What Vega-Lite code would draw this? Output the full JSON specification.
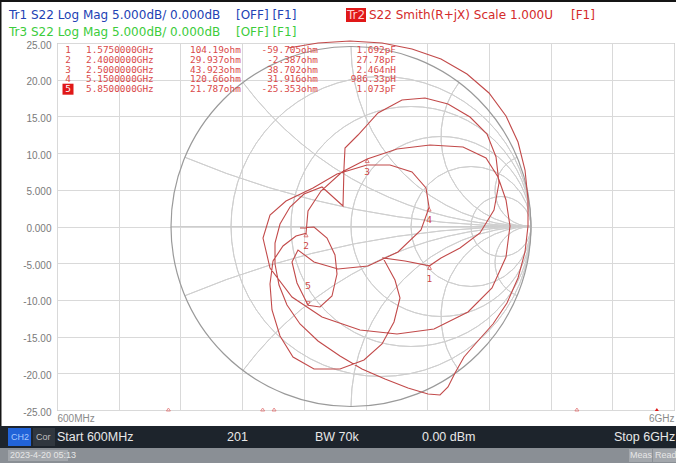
{
"$schema": "https://vega.github.io/schema/vega-lite/v6.json",
"width": 617,
"height": 367,
"autosize": {"type": "none"},
"padding": {"left": 57, "top": 43, "right": 2, "bottom": 53},
"background": "#ffffff",
"config": {"view": {"stroke": "#a6a6a6", "strokeWidth": 1}},
"datasets": {
  "smith": [
    {"k":"outer","cx":0,"cy":0,"R":1,"t1":0,"t2":6.2832},
    {"k":"r","cx":0.1667,"cy":0,"R":0.8333,"t1":0,"t2":6.2832},
    {"k":"r","cx":0.3333,"cy":0,"R":0.6667,"t1":0,"t2":6.2832},
    {"k":"r","cx":0.5,"cy":0,"R":0.5,"t1":0,"t2":6.2832},
    {"k":"r","cx":0.6667,"cy":0,"R":0.3333,"t1":0,"t2":6.2832},
    {"k":"r","cx":0.8333,"cy":0,"R":0.1667,"t1":0,"t2":6.2832},
    {"k":"x","cx":1,"cy":5,"R":5,"t1":3.1416,"t2":3.5364},
    {"k":"x","cx":1,"cy":2,"R":2,"t1":3.1416,"t2":4.0689},
    {"k":"x","cx":1,"cy":1,"R":1,"t1":3.1416,"t2":4.7124},
    {"k":"x","cx":1,"cy":0.5,"R":0.5,"t1":3.1416,"t2":5.3559},
    {"k":"x","cx":1,"cy":0.2,"R":0.2,"t1":3.1416,"t2":5.8884},
    {"k":"x","cx":1,"cy":-5,"R":5,"t1":-0.3948,"t2":0},
    {"k":"x","cx":1,"cy":-2,"R":2,"t1":-0.9273,"t2":0},
    {"k":"x","cx":1,"cy":-1,"R":1,"t1":-1.5708,"t2":0},
    {"k":"x","cx":1,"cy":-0.5,"R":0.5,"t1":-2.2143,"t2":0},
    {"k":"x","cx":1,"cy":-0.2,"R":0.2,"t1":-2.7468,"t2":0}
  ],
  "trace": [
    {"i":0,"re":-0.35,"im":0.9917},{"i":1,"re":-0.1833,"im":1.0194},{"i":2,"re":-0.0056,"im":1.0306},
    {"i":3,"re":0.1722,"im":1.0194},{"i":4,"re":0.3389,"im":0.9861},{"i":5,"re":0.5,"im":0.9306},
    {"i":6,"re":0.6444,"im":0.8472},{"i":7,"re":0.7667,"im":0.7417},{"i":8,"re":0.8611,"im":0.6139},
    {"i":9,"re":0.9278,"im":0.4694},{"i":10,"re":0.9667,"im":0.3139},{"i":11,"re":0.9833,"im":0.1528},
    {"i":12,"re":0.9833,"im":0.0028},{"i":13,"re":0.9667,"im":-0.1417},{"i":14,"re":0.9278,"im":-0.2861},
    {"i":15,"re":0.8667,"im":-0.425},{"i":16,"re":0.7889,"im":-0.5417},{"i":17,"re":0.7,"im":-0.6417},
    {"i":18,"re":0.6278,"im":-0.725},{"i":19,"re":0.5778,"im":-0.8139},{"i":20,"re":0.5389,"im":-0.8917},
    {"i":21,"re":0.4944,"im":-0.9361},{"i":22,"re":0.4278,"im":-0.9306},
    {"i":23,"re":0.3167,"im":-0.8972},{"i":24,"re":0.1889,"im":-0.8472},{"i":25,"re":0.0611,"im":-0.7917},
    {"i":26,"re":-0.0611,"im":-0.7194},{"i":27,"re":-0.1833,"im":-0.6361},{"i":28,"re":-0.2833,"im":-0.5417},
    {"i":29,"re":-0.3556,"im":-0.4361},{"i":30,"re":-0.4,"im":-0.325},{"i":31,"re":-0.4222,"im":-0.2083},
    {"i":32,"re":-0.4222,"im":-0.0917},{"i":33,"re":-0.3944,"im":0.0139},{"i":34,"re":-0.3389,"im":0.1083},
    {"i":35,"re":-0.2611,"im":0.1806},{"i":36,"re":-0.1611,"im":0.2194},{"i":37,"re":-0.0444,"im":0.1139},
    {"i":38,"re":-0.0389,"im":0.325},{"i":39,"re":-0.0333,"im":0.4361},{"i":40,"re":0.0389,"im":0.5083},
    {"i":41,"re":0.15,"im":0.6306},{"i":42,"re":0.2833,"im":0.7028},{"i":43,"re":0.4111,"im":0.7139},
    {"i":44,"re":0.5389,"im":0.6806},{"i":45,"re":0.6611,"im":0.6083},{"i":46,"re":0.7556,"im":0.5139},
    {"i":47,"re":0.8056,"im":0.3861},{"i":48,"re":0.8222,"im":0.2417},{"i":49,"re":0.7944,"im":0.0917},
    {"i":50,"re":0.7167,"im":-0.0361},{"i":51,"re":0.6056,"im":-0.1194},{"i":52,"re":0.5,"im":-0.175},
    {"i":53,"re":0.436,"im":-0.2183},
    {"i":54,"re":0.3,"im":-0.1917},{"i":55,"re":0.1778,"im":-0.175},{"i":56,"re":0.2444,"im":-0.2972},
    {"i":57,"re":0.2722,"im":-0.3972},{"i":58,"re":0.2389,"im":-0.5306},{"i":59,"re":0.1722,"im":-0.6528},
    {"i":60,"re":0.0722,"im":-0.7417},{"i":61,"re":-0.0611,"im":-0.7917},{"i":62,"re":-0.2056,"im":-0.7917},
    {"i":63,"re":-0.3222,"im":-0.725},{"i":64,"re":-0.3944,"im":-0.6083},{"i":65,"re":-0.4389,"im":-0.4639},
    {"i":66,"re":-0.45,"im":-0.3194},{"i":67,"re":-0.4333,"im":-0.1917},{"i":68,"re":-0.3778,"im":-0.1083},
    {"i":69,"re":-0.3056,"im":-0.0528},{"i":70,"re":-0.2499,"im":-0.0373},
    {"i":71,"re":-0.2389,"im":0.0861},{"i":72,"re":-0.1667,"im":0.1972},{"i":73,"re":-0.05,"im":0.3028},
    {"i":74,"re":0.0898,"im":0.3751},
    {"i":75,"re":0.2556,"im":0.4306},{"i":76,"re":0.4389,"im":0.4528},{"i":77,"re":0.6222,"im":0.4417},
    {"i":78,"re":0.75,"im":0.3806},{"i":79,"re":0.8167,"im":0.275},{"i":80,"re":0.8611,"im":0.1472},
    {"i":81,"re":0.8833,"im":0.0028},{"i":82,"re":0.8611,"im":-0.1694},{"i":83,"re":0.7833,"im":-0.3417},
    {"i":84,"re":0.65,"im":-0.475},{"i":85,"re":0.4611,"im":-0.5694},{"i":86,"re":0.2556,"im":-0.5972},
    {"i":87,"re":0.05,"im":-0.575},{"i":88,"re":-0.1611,"im":-0.5028},{"i":89,"re":-0.3278,"im":-0.3917},
    {"i":90,"re":-0.45,"im":-0.2306},{"i":91,"re":-0.4889,"im":-0.0639},{"i":92,"re":-0.45,"im":0.0639},
    {"i":93,"re":-0.3611,"im":0.1417},{"i":94,"re":-0.2111,"im":0.2139},{"i":95,"re":-0.0778,"im":0.2917},
    {"i":96,"re":0.0889,"im":0.3417},{"i":97,"re":0.2167,"im":0.3417},{"i":98,"re":0.3389,"im":0.3028},
    {"i":99,"re":0.4167,"im":0.2139},{"i":100,"re":0.4338,"im":0.1059},
    {"i":101,"re":0.3889,"im":-0.0194},{"i":102,"re":0.2611,"im":-0.1417},{"i":103,"re":0.0944,"im":-0.2194},
    {"i":104,"re":-0.0722,"im":-0.2361},{"i":105,"re":-0.2056,"im":-0.1972},{"i":106,"re":-0.2944,"im":-0.1306},
    {"i":107,"re":-0.3278,"im":-0.1972},{"i":108,"re":-0.3,"im":-0.3139},{"i":109,"re":-0.2385,"im":-0.4374},
    {"i":110,"re":-0.1722,"im":-0.4472},{"i":111,"re":-0.1056,"im":-0.3861},{"i":112,"re":-0.0778,"im":-0.2639},
    {"i":113,"re":-0.0889,"im":-0.1583},{"i":114,"re":-0.1333,"im":-0.0639},{"i":115,"re":-0.2056,"im":-0.0028},
    {"i":116,"re":-0.2833,"im":-0.0083}
  ],
  "markers": [
    {"m":1,"f":1.575,"re":0.4360,"im":-0.2183,"fs":"1.5750000GHz","r":"104.19ohm","xv":"-59.705ohm","lc":"1.692pF"},
    {"m":2,"f":2.4,"re":-0.2499,"im":-0.0373,"fs":"2.4000000GHz","r":"29.937ohm","xv":"-2.387ohm","lc":"27.78pF"},
    {"m":3,"f":2.5,"re":0.0898,"im":0.3751,"fs":"2.5000000GHz","r":"43.923ohm","xv":"38.702ohm","lc":"2.464nH"},
    {"m":4,"f":5.15,"re":0.4338,"im":0.1059,"fs":"5.1500000GHz","r":"120.66ohm","xv":"31.916ohm","lc":"986.33pH"},
    {"m":5,"f":5.85,"re":-0.2385,"im":-0.4374,"fs":"5.8500000GHz","r":"21.787ohm","xv":"-25.353ohm","lc":"1.073pF"}
  ],
  "chromeRect": [
    {"g":"border","x1":-1.95,"x2":1.8056,"y1":1.2583,"y2":1.2472},
    {"g":"border","x1":-1.95,"x2":-1.9417,"y1":1.2583,"y2":-1.2306},
    {"g":"bar","x1":-1.95,"x2":1.8056,"y1":-1.1083,"y2":-1.2306},
    {"g":"status","x1":-1.95,"x2":1.8056,"y1":-1.2306,"y2":-1.3139},
    {"g":"ch2","x1":-1.9056,"x2":-1.7778,"y1":-1.1194,"y2":-1.2194},
    {"g":"cor","x1":-1.7667,"x2":-1.6444,"y1":-1.1194,"y2":-1.2194},
    {"g":"stamp","x1":-1.9056,"x2":-1.5722,"y1":-1.2417,"y2":-1.3028},
    {"g":"stamp","x1":1.5444,"x2":1.6722,"y1":-1.2361,"y2":-1.3083},
    {"g":"stamp","x1":1.6778,"x2":1.8056,"y1":-1.2361,"y2":-1.3083},
    {"g":"tr2","x1":-0.0278,"x2":0.0833,"y1":1.2139,"y2":1.1361}
  ],
  "header": [
    {"t":"Tr1 S22 Log Mag 5.000dB/ 0.000dB","x":-1.9,"y":1.175,"g":"tr1"},
    {"t":"[OFF] [F1]","x":-0.6389,"y":1.175,"g":"tr1"},
    {"t":"Tr3 S22 Log Mag 5.000dB/ 0.000dB","x":-1.9,"y":1.0806,"g":"tr3"},
    {"t":"[OFF] [F1]","x":-0.6389,"y":1.0806,"g":"tr3"},
    {"t":"S22 Smith(R+jX) Scale 1.000U","x":0.1,"y":1.175,"g":"tr2"},
    {"t":"[F1]","x":1.2222,"y":1.175,"g":"tr2"},
    {"t":"Tr2","x":-0.0222,"y":1.175,"g":"tr2box"}
  ],
  "footer": [
    {"t":"Start 600MHz","x":-1.6333,"y":-1.1694,"g":"main"},
    {"t":"201","x":-0.6889,"y":-1.1694,"g":"main"},
    {"t":"BW 70k","x":-0.2,"y":-1.1694,"g":"main"},
    {"t":"0.00 dBm","x":0.3944,"y":-1.1694,"g":"main"},
    {"t":"Stop 6GHz","x":1.4611,"y":-1.1694,"g":"main"},
    {"t":"CH2","x":-1.8889,"y":-1.1694,"g":"ch2"},
    {"t":"Cor","x":-1.75,"y":-1.1694,"g":"cor"},
    {"t":"2023-4-20 05:13","x":-1.8944,"y":-1.2722,"g":"status"},
    {"t":"Meas","x":1.55,"y":-1.2722,"g":"status"},
    {"t":"Read","x":1.6889,"y":-1.2722,"g":"status"}
  ]
},
"resolve": {"scale": {"x": "independent", "y": "independent", "color": "independent"}},
"layer": [
  {
    "data": {"values": [{}]},
    "mark": {"type": "rule", "color": "#cdcdcd", "strokeWidth": 1},
    "encoding": {
      "x": {"datum": -1, "type": "quantitative",
        "scale": {"domain": [-1.633333, 1.794444], "nice": false, "zero": false},
        "axis": {"values": [-1.633333,-1.290556,-0.947778,-0.605,-0.262222,0.080556,0.423333,0.766111,1.108889,1.451667,1.794444],
          "grid": true, "gridColor": "#d9d9d9", "ticks": false, "domain": false, "title": null,
          "labelExpr": "datum.value < -1.6 ? '600MHz' : (datum.value > 1.79 ? '6GHz' : '')",
          "labelFlush": true, "labelOverlap": false, "labelFont": "Liberation Sans", "labelFontSize": 10,
          "labelColor": "#8a8a8a", "labelPadding": 3}},
      "x2": {"datum": 1},
      "y": {"datum": 0, "type": "quantitative",
        "scale": {"domain": [-1.019444, 1.019444], "nice": false, "zero": false},
        "axis": {"values": [-1.019444,-0.815556,-0.611667,-0.407778,-0.203889,0,0.203889,0.407778,0.611667,0.815556,1.019444],
          "grid": true, "gridColor": "#d9d9d9", "ticks": false, "domain": false, "title": null,
          "labelExpr": "['-25.00','-20.00','-15.00','-10.00','-5.000','0.000','5.000','10.00','15.00','20.00','25.00'][round(datum.value/0.203889)+5]",
          "labelFlush": false, "labelOverlap": false, "labelFont": "Liberation Sans", "labelFontSize": 10,
          "labelColor": "#7a7a7a", "labelPadding": 6, "labelBaseline": "middle", "labelOffset": 2}}
    }
  },
  {
    "data": {"name": "smith"},
    "transform": [{"filter": "datum.k != 'outer'"}],
    "mark": {"type": "arc", "filled": false, "color": "#cfcfcf", "strokeWidth": 1},
    "encoding": {
      "x": {"field": "cx", "type": "quantitative", "scale": {"domain": [-1.633333, 1.794444], "nice": false, "zero": false}, "axis": null},
      "y": {"field": "cy", "type": "quantitative", "scale": {"domain": [-1.019444, 1.019444], "nice": false, "zero": false}, "axis": null},
      "radius": {"field": "R", "type": "quantitative", "scale": {"type": "linear", "domain": [0, 1], "range": [0, 180]}},
      "radius2": {"field": "R"},
      "theta": {"field": "t1", "type": "quantitative", "scale": null, "stack": null},
      "theta2": {"field": "t2"}
    }
  },
  {
    "data": {"name": "smith"},
    "transform": [{"filter": "datum.k == 'outer'"}],
    "mark": {"type": "arc", "filled": false, "color": "#9a9a9a", "strokeWidth": 1.2},
    "encoding": {
      "x": {"field": "cx", "type": "quantitative", "scale": {"domain": [-1.633333, 1.794444], "nice": false, "zero": false}, "axis": null},
      "y": {"field": "cy", "type": "quantitative", "scale": {"domain": [-1.019444, 1.019444], "nice": false, "zero": false}, "axis": null},
      "radius": {"field": "R", "type": "quantitative", "scale": {"type": "linear", "domain": [0, 1], "range": [0, 180]}},
      "radius2": {"field": "R"},
      "theta": {"field": "t1", "type": "quantitative", "scale": null, "stack": null},
      "theta2": {"field": "t2"}
    }
  },
  {
    "data": {"name": "trace"},
    "mark": {"type": "line", "color": "#c24a4a", "strokeWidth": 1.1},
    "encoding": {
      "x": {"field": "re", "type": "quantitative", "scale": {"domain": [-1.633333, 1.794444], "nice": false, "zero": false}, "axis": null},
      "y": {"field": "im", "type": "quantitative", "scale": {"domain": [-1.019444, 1.019444], "nice": false, "zero": false}, "axis": null},
      "order": {"field": "i", "type": "quantitative"}
    }
  },
  {
    "data": {"name": "markers"},
    "transform": [{"filter": "datum.m < 5"}],
    "mark": {"type": "point", "shape": "M0,0L-0.5,0.9L0.5,0.9Z", "size": 64, "filled": false, "color": "#d04545", "strokeWidth": 1},
    "encoding": {
      "x": {"field": "re", "type": "quantitative", "scale": {"domain": [-1.633333, 1.794444], "nice": false, "zero": false}, "axis": null},
      "y": {"field": "im", "type": "quantitative", "scale": {"domain": [-1.019444, 1.019444], "nice": false, "zero": false}, "axis": null}
    }
  },
  {
    "data": {"name": "markers"},
    "transform": [{"filter": "datum.m == 5"}],
    "mark": {"type": "point", "shape": "M0,0L-0.5,-0.9L0.5,-0.9Z", "size": 64, "filled": false, "color": "#d04545", "strokeWidth": 1},
    "encoding": {
      "x": {"field": "re", "type": "quantitative", "scale": {"domain": [-1.633333, 1.794444], "nice": false, "zero": false}, "axis": null},
      "y": {"field": "im", "type": "quantitative", "scale": {"domain": [-1.019444, 1.019444], "nice": false, "zero": false}, "axis": null}
    }
  },
  {
    "data": {"name": "markers"},
    "transform": [{"filter": "datum.m < 5"}],
    "mark": {"type": "text", "font": "DejaVu Sans Mono", "fontSize": 9.5, "color": "#d04545", "dy": 13, "baseline": "middle"},
    "encoding": {
      "x": {"field": "re", "type": "quantitative", "scale": {"domain": [-1.633333, 1.794444], "nice": false, "zero": false}, "axis": null},
      "y": {"field": "im", "type": "quantitative", "scale": {"domain": [-1.019444, 1.019444], "nice": false, "zero": false}, "axis": null},
      "text": {"field": "m"}
    }
  },
  {
    "data": {"name": "markers"},
    "transform": [{"filter": "datum.m == 5"}],
    "mark": {"type": "text", "font": "DejaVu Sans Mono", "fontSize": 9.5, "color": "#d04545", "dy": -19, "baseline": "middle"},
    "encoding": {
      "x": {"field": "re", "type": "quantitative", "scale": {"domain": [-1.633333, 1.794444], "nice": false, "zero": false}, "axis": null},
      "y": {"field": "im", "type": "quantitative", "scale": {"domain": [-1.019444, 1.019444], "nice": false, "zero": false}, "axis": null},
      "text": {"field": "m"}
    }
  },
  {
    "data": {"name": "chromeRect"},
    "mark": {"type": "rect"},
    "encoding": {
      "x": {"field": "x1", "type": "quantitative", "scale": {"domain": [-1.633333, 1.794444], "nice": false, "zero": false}, "axis": null},
      "x2": {"field": "x2"},
      "y": {"field": "y1", "type": "quantitative", "scale": {"domain": [-1.019444, 1.019444], "nice": false, "zero": false}, "axis": null},
      "y2": {"field": "y2"},
      "color": {"field": "g", "type": "nominal", "legend": null,
        "scale": {"domain": ["border","bar","status","ch2","cor","stamp","tr2"],
                  "range": ["#151515","#1d242c","#8a8f95","#2163d8","#30373f","#a3a7ac","#e01818"]}}
    }
  },
  {
    "data": {"name": "header"},
    "mark": {"type": "text", "font": "DejaVu Sans", "fontSize": 12, "align": "left", "baseline": "middle"},
    "encoding": {
      "x": {"field": "x", "type": "quantitative", "scale": {"domain": [-1.633333, 1.794444], "nice": false, "zero": false}, "axis": null},
      "y": {"field": "y", "type": "quantitative", "scale": {"domain": [-1.019444, 1.019444], "nice": false, "zero": false}, "axis": null},
      "text": {"field": "t"},
      "color": {"field": "g", "type": "nominal", "legend": null,
        "scale": {"domain": ["tr1","tr3","tr2","tr2box"], "range": ["#2142b4","#3ccc3c","#d42a2a","#ffd0d0"]}}
    }
  },
  {
    "data": {"name": "footer"},
    "transform": [{"filter": "datum.g == 'main'"}],
    "mark": {"type": "text", "font": "Liberation Sans", "fontSize": 12.5, "align": "left", "baseline": "middle", "color": "#e8e8e8"},
    "encoding": {
      "x": {"field": "x", "type": "quantitative", "scale": {"domain": [-1.633333, 1.794444], "nice": false, "zero": false}, "axis": null},
      "y": {"field": "y", "type": "quantitative", "scale": {"domain": [-1.019444, 1.019444], "nice": false, "zero": false}, "axis": null},
      "text": {"field": "t"}
    }
  },
  {
    "data": {"name": "footer"},
    "transform": [{"filter": "datum.g != 'main'"}],
    "mark": {"type": "text", "font": "Liberation Sans", "fontSize": 9, "align": "left", "baseline": "middle"},
    "encoding": {
      "x": {"field": "x", "type": "quantitative", "scale": {"domain": [-1.633333, 1.794444], "nice": false, "zero": false}, "axis": null},
      "y": {"field": "y", "type": "quantitative", "scale": {"domain": [-1.019444, 1.019444], "nice": false, "zero": false}, "axis": null},
      "text": {"field": "t"},
      "color": {"field": "g", "type": "nominal", "legend": null,
        "scale": {"domain": ["ch2","cor","status"], "range": ["#a8c8ff","#c0c0c0","#e6e6e6"]}}
    }
  },
  {
    "data": {"name": "markers"},
    "transform": [{"filter": "datum.m < 5"}],
    "mark": {"type": "point", "shape": "M0,-0.5L-0.5,0.25L0.5,0.25Z", "size": 64, "filled": false, "color": "#e06060", "strokeWidth": 1},
    "encoding": {
      "x": {"field": "f", "type": "quantitative", "scale": {"domain": [0.6, 6], "nice": false, "zero": false}, "axis": null},
      "y": {"datum": -1.019444, "type": "quantitative", "scale": {"domain": [-1.019444, 1.019444], "nice": false, "zero": false}, "axis": null}
    }
  },
  {
    "data": {"name": "markers"},
    "transform": [{"filter": "datum.m == 5"}],
    "mark": {"type": "point", "shape": "M0,-0.5L-0.5,0.25L0.5,0.25Z", "size": 64, "filled": true, "color": "#e01818", "opacity": 1},
    "encoding": {
      "x": {"field": "f", "type": "quantitative", "scale": {"domain": [0.6, 6], "nice": false, "zero": false}, "axis": null},
      "y": {"datum": -1.019444, "type": "quantitative", "scale": {"domain": [-1.019444, 1.019444], "nice": false, "zero": false}, "axis": null}
    }
  },
  {
    "data": {"name": "markers"},
    "transform": [{"filter": "datum.m == 5"}],
    "mark": {"type": "point", "shape": "square", "size": 121, "filled": true, "color": "#e01818", "opacity": 1},
    "encoding": {
      "x": {"datum": -1.5722, "type": "quantitative", "scale": {"domain": [-1.633333, 1.794444], "nice": false, "zero": false}, "axis": null},
      "y": {"field": "m", "type": "quantitative", "scale": {"domain": [0.2857, 37.735], "reverse": true, "nice": false, "zero": false}, "axis": null}
    }
  },
  {
    "data": {"name": "markers"},
    "mark": {"type": "text", "font": "DejaVu Sans Mono", "fontSize": 9.4, "align": "center", "baseline": "middle"},
    "encoding": {
      "x": {"datum": -1.5722, "type": "quantitative", "scale": {"domain": [-1.633333, 1.794444], "nice": false, "zero": false}, "axis": null},
      "y": {"field": "m", "type": "quantitative", "scale": {"domain": [0.2857, 37.735], "reverse": true, "nice": false, "zero": false}, "axis": null},
      "text": {"field": "m"},
      "color": {"condition": {"test": "datum.m == 5", "value": "#ffffff"}, "value": "#d94a4a"}
    }
  },
  {
    "data": {"name": "markers"},
    "mark": {"type": "text", "font": "DejaVu Sans Mono", "fontSize": 9.4, "align": "left", "baseline": "middle", "color": "#d94a4a"},
    "encoding": {
      "x": {"datum": -1.4722, "type": "quantitative", "scale": {"domain": [-1.633333, 1.794444], "nice": false, "zero": false}, "axis": null},
      "y": {"field": "m", "type": "quantitative", "scale": {"domain": [0.2857, 37.735], "reverse": true, "nice": false, "zero": false}, "axis": null},
      "text": {"field": "fs"}
    }
  },
  {
    "data": {"name": "markers"},
    "mark": {"type": "text", "font": "DejaVu Sans Mono", "fontSize": 9.4, "align": "left", "baseline": "middle", "color": "#d94a4a"},
    "encoding": {
      "x": {"datum": -0.8944, "type": "quantitative", "scale": {"domain": [-1.633333, 1.794444], "nice": false, "zero": false}, "axis": null},
      "y": {"field": "m", "type": "quantitative", "scale": {"domain": [0.2857, 37.735], "reverse": true, "nice": false, "zero": false}, "axis": null},
      "text": {"field": "r"}
    }
  },
  {
    "data": {"name": "markers"},
    "mark": {"type": "text", "font": "DejaVu Sans Mono", "fontSize": 9.4, "align": "right", "baseline": "middle", "color": "#d94a4a"},
    "encoding": {
      "x": {"datum": -0.1833, "type": "quantitative", "scale": {"domain": [-1.633333, 1.794444], "nice": false, "zero": false}, "axis": null},
      "y": {"field": "m", "type": "quantitative", "scale": {"domain": [0.2857, 37.735], "reverse": true, "nice": false, "zero": false}, "axis": null},
      "text": {"field": "xv"}
    }
  },
  {
    "data": {"name": "markers"},
    "mark": {"type": "text", "font": "DejaVu Sans Mono", "fontSize": 9.4, "align": "right", "baseline": "middle", "color": "#d94a4a"},
    "encoding": {
      "x": {"datum": 0.25, "type": "quantitative", "scale": {"domain": [-1.633333, 1.794444], "nice": false, "zero": false}, "axis": null},
      "y": {"field": "m", "type": "quantitative", "scale": {"domain": [0.2857, 37.735], "reverse": true, "nice": false, "zero": false}, "axis": null},
      "text": {"field": "lc"}
    }
  }
]
}
